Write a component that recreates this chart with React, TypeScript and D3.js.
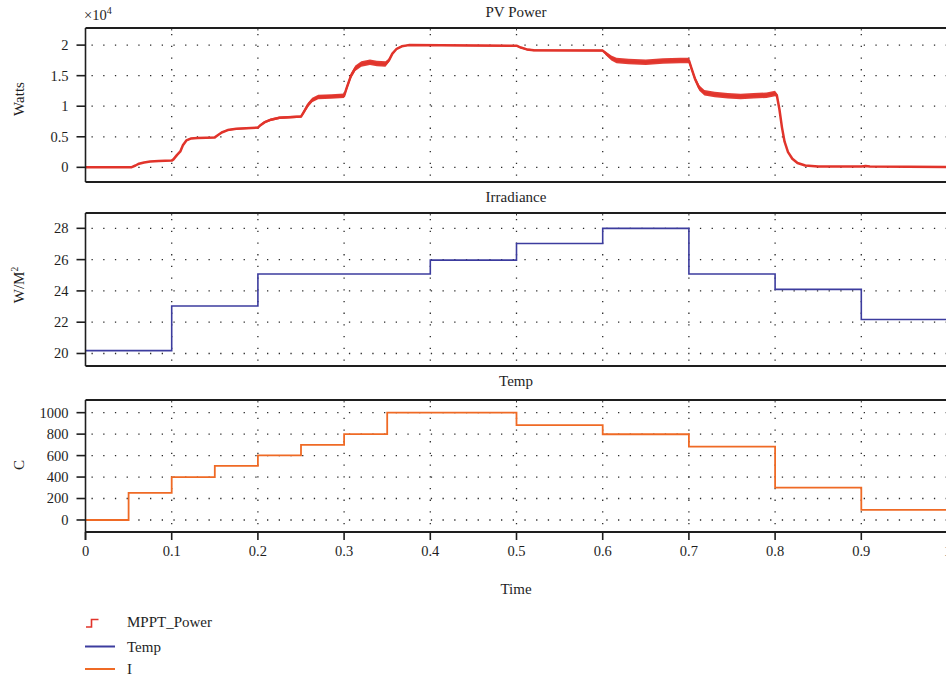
import React from 'react';
import * as d3 from 'd3';

// Simulation time axis
const timeTicks = [0, 0.1, 0.2, 0.3, 0.4, 0.5, 0.6, 0.7, 0.8, 0.9, 1.0];
const timeTickLabels = ['0', '0.1', '0.2', '0.3', '0.4', '0.5', '0.6', '0.7', '0.8', '0.9', '1'];

// PV output power (W) tracked by the MPPT controller
const powerTime = [
  0, 0.053, 0.058, 0.062, 0.068, 0.075, 0.085, 0.1,
  0.102, 0.106, 0.11, 0.113, 0.117, 0.122, 0.13, 0.15,
  0.153, 0.158, 0.165, 0.175, 0.2,
  0.203, 0.208, 0.215, 0.225, 0.25,
  0.253, 0.258, 0.263, 0.27, 0.285, 0.3,
  0.303, 0.308, 0.313, 0.32, 0.33, 0.338, 0.348,
  0.352, 0.356, 0.361, 0.367, 0.375, 0.45, 0.5,
  0.505, 0.512, 0.52, 0.6,
  0.604, 0.61, 0.616, 0.63, 0.65, 0.67, 0.69, 0.7,
  0.703, 0.707, 0.712, 0.718, 0.73, 0.745, 0.76, 0.775, 0.79, 0.8,
  0.802, 0.805, 0.808, 0.811, 0.815, 0.82, 0.826, 0.835, 0.85, 0.9, 0.905, 0.91, 1.0,
];
const powerWatts = [
  0, 0, 300, 600, 800, 950, 1050, 1100,
  1300, 2000, 2600, 3600, 4400, 4700, 4800, 4900,
  5200, 5700, 6100, 6300, 6500,
  6900, 7400, 7800, 8100, 8300,
  9000, 10200, 11000, 11500, 11600, 11700,
  13000, 15000, 16200, 16900, 17200, 17000, 16900,
  17500, 18600, 19400, 19800, 20000, 19950, 19900,
  19600, 19300, 19150, 19100,
  18600, 17900, 17500, 17300, 17200, 17400, 17500, 17500,
  16200, 14500, 13000, 12200, 11900, 11700, 11600, 11700, 11800, 12100,
  11800, 9500, 6500, 4200, 2500, 1400, 700, 300, 150, 120, 200, 120, 50,
];
// Half-width of the switching ripple band around the power trace (W)
const powerRipple = [
  60, 60, 60, 60, 60, 60, 60, 70,
  80, 90, 100, 110, 120, 120, 120, 120,
  130, 130, 130, 130, 130,
  180, 200, 200, 200, 200,
  300, 370, 370, 370, 370, 370,
  420, 450, 450, 450, 450, 450, 450,
  300, 200, 130, 120, 120, 120, 120,
  140, 160, 160, 160,
  300, 420, 450, 450, 450, 450, 450, 450,
  420, 420, 450, 450, 450, 450, 450, 450, 450, 450,
  300, 150, 80, 60, 50, 40, 30, 30, 30, 30, 30, 30, 30,
];
const powerTicks = [0, 5000, 10000, 15000, 20000];
const powerTickLabels = ['0', '0.5', '1', '1.5', '2'];

// Irradiance steps (W/M²)
const irradianceTime = [0, 0.1, 0.2, 0.4, 0.5, 0.6, 0.7, 0.8, 0.9, 1.0];
const irradianceLevel = [20.18, 23.04, 25.08, 25.97, 27.03, 28.0, 25.08, 24.1, 22.17, 22.17];
const irradianceTicks = [20, 22, 24, 26, 28];

// Temperature steps (C)
const tempTime = [0, 0.05, 0.1, 0.15, 0.2, 0.25, 0.3, 0.35, 0.5, 0.6, 0.7, 0.8, 0.9, 1.0];
const tempLevel = [0, 252, 400, 505, 602, 700, 800, 1000, 884, 799, 684, 302, 94, 94];
const tempTicks = [0, 200, 400, 600, 800, 1000];

const legendNames = ['MPPT_Power', 'Temp', 'I'];

const RED = '#e1342b';
const BLUE = '#3c3c9e';
const ORANGE = '#ef6a25';
const INK = '#1e1e1e';
const FONT = '"Liberation Serif", "DejaVu Serif", serif';

const W = 946;
const H = 680;
const x0 = 85.5;
const x1 = 947.5;

const x = d3.scaleLinear().domain([0, 1]).range([x0, x1]);

type PanelProps = {
  top: number;
  bottom: number;
  y: d3.ScaleLinear<number, number>;
  ticks: number[];
  tickLabels: string[];
  title: string;
  titleY: number;
  children?: React.ReactNode;
  bottomAxis?: boolean;
};

function Panel({ top, bottom, y, ticks, tickLabels, title, titleY, children, bottomAxis }: PanelProps) {
  const clipId = 'clip-' + title.replace(/\s/g, '');
  return (
    <g>
      <defs>
        <clipPath id={clipId}>
          <rect x={x0} y={top} width={x1 - x0} height={bottom - top} />
        </clipPath>
      </defs>
      <text x={516} y={titleY} textAnchor="middle" fontSize={15} fill={INK}>
        {title}
      </text>
      {/* dotted grid */}
      <g stroke="#2a2a2a" strokeWidth={1.3} strokeDasharray="1.3 10.4" fill="none">
        {ticks.map((t) => (
          <line key={'h' + t} x1={x0 + 6} x2={x1} y1={y(t)} y2={y(t)} />
        ))}
        {timeTicks.slice(1).map((t) => (
          <line key={'v' + t} x1={x(t)} x2={x(t)} y1={top + 6} y2={bottom} />
        ))}
      </g>
      {/* small inner ticks along the top frame */}
      <g stroke="#333" strokeWidth={1}>
        {timeTicks.slice(1).map((t) => (
          <line key={'it' + t} x1={x(t)} x2={x(t)} y1={top} y2={top + 2.5} />
        ))}
      </g>
      <g clipPath={`url(#${clipId})`}>{children}</g>
      {/* frame */}
      <line x1={x0} x2={W} y1={top} y2={top} stroke={INK} strokeWidth={2} />
      <line x1={x0} x2={W} y1={bottom} y2={bottom} stroke={INK} strokeWidth={2} />
      <line x1={x0} x2={x0} y1={top} y2={bottomAxis ? bottom + 8 : bottom} stroke={INK} strokeWidth={1.6} />
      {/* y axis ticks */}
      {ticks.map((t, i) => (
        <g key={'yt' + t}>
          <line x1={x0 - 9} x2={x0} y1={y(t)} y2={y(t)} stroke={INK} strokeWidth={1.6} />
          <text x={68.5} y={y(t)} dy="0.34em" textAnchor="end" fontSize={14.5} fill={INK}>
            {tickLabels[i]}
          </text>
        </g>
      ))}
      {bottomAxis &&
        timeTicks.map((t, i) => (
          <g key={'xt' + t}>
            <line x1={x(t)} x2={x(t)} y1={bottom} y2={bottom + 8} stroke={INK} strokeWidth={1.6} />
            <text x={x(t)} y={556} textAnchor="middle" fontSize={14.5} fill={INK}>
              {timeTickLabels[i]}
            </text>
          </g>
        ))}
    </g>
  );
}

export default function App() {
  // panel 1: PV power
  const yP = d3.scaleLinear().domain([-0.24e4, 2.28e4]).range([182, 28]);
  const powerIdx = d3.range(powerTime.length);
  const powerBand = d3
    .area<number>()
    .x((i) => x(powerTime[i]))
    .y0((i) => yP(powerWatts[i] - powerRipple[i]))
    .y1((i) => yP(powerWatts[i] + powerRipple[i]));
  const powerLine = d3
    .line<number>()
    .x((i) => x(powerTime[i]))
    .y((i) => yP(powerWatts[i]));

  // panel 2: irradiance
  const yI = d3.scaleLinear().domain([19.2, 28.98]).range([366, 213]);
  const irrLine = d3
    .line<number>()
    .curve(d3.curveStepAfter)
    .x((i) => x(irradianceTime[i]))
    .y((i) => yI(irradianceLevel[i]));

  // panel 3: temperature
  const yT = d3.scaleLinear().domain([-112, 1118]).range([532, 400]);
  const tempLine = d3
    .line<number>()
    .curve(d3.curveStepAfter)
    .x((i) => x(tempTime[i]))
    .y((i) => yT(tempLevel[i]));

  const legendY = [622, 646.5, 669];

  return (
    <svg
      width={W}
      height={H}
      viewBox={`0 0 ${W} ${H}`}
      style={{ position: 'absolute', left: 0, top: 0, background: '#fff' }}
      fontFamily={FONT}
    >
      <rect width={W} height={H} fill="#fff" />

      <Panel top={28} bottom={182} y={yP} ticks={powerTicks} tickLabels={powerTickLabels} title="PV Power" titleY={17}>
        <path d={powerBand(powerIdx) ?? ''} fill={RED} opacity={0.95} />
        <path d={powerLine(powerIdx) ?? ''} fill="none" stroke={RED} strokeWidth={2.5} strokeLinejoin="round" />
      </Panel>
      <text x={84} y={20} fontSize={14.5} fill={INK}>
        ×10
        <tspan fontSize={10} dy={-6}>4</tspan>
      </text>
      <text transform="translate(24,99) rotate(-90)" textAnchor="middle" fontSize={15} fill={INK}>
        Watts
      </text>

      <Panel
        top={213}
        bottom={366}
        y={yI}
        ticks={irradianceTicks}
        tickLabels={irradianceTicks.map(String)}
        title="Irradiance"
        titleY={202}
      >
        <path d={irrLine(d3.range(irradianceTime.length)) ?? ''} fill="none" stroke={BLUE} strokeWidth={1.6} />
      </Panel>
      <text transform="translate(24,285) rotate(-90)" textAnchor="middle" fontSize={15} fill={INK}>
        W/M
        <tspan fontSize={9.5} dy={-6}>2</tspan>
      </text>

      <Panel
        top={400}
        bottom={532}
        y={yT}
        ticks={tempTicks}
        tickLabels={tempTicks.map(String)}
        title="Temp"
        titleY={386}
        bottomAxis
      >
        <path d={tempLine(d3.range(tempTime.length)) ?? ''} fill="none" stroke={ORANGE} strokeWidth={1.8} />
      </Panel>
      <text transform="translate(24,465) rotate(-90)" textAnchor="middle" fontSize={15} fill={INK}>
        C
      </text>

      <text x={516} y={594} textAnchor="middle" fontSize={15} fill={INK}>
        Time
      </text>

      {/* legend */}
      <path
        d={`M86,${legendY[0] + 5} H91.5 V${legendY[0] - 2.5} H98.5`}
        fill="none"
        stroke={RED}
        strokeWidth={1.6}
      />
      <line x1={85} x2={115} y1={legendY[1]} y2={legendY[1]} stroke={BLUE} strokeWidth={2} />
      <line x1={85} x2={115} y1={legendY[2]} y2={legendY[2]} stroke={ORANGE} strokeWidth={2} />
      {legendNames.map((n, i) => (
        <text key={n} x={127} y={legendY[i]} dy="0.34em" fontSize={15} fill={INK}>
          {n}
        </text>
      ))}
    </svg>
  );
}
